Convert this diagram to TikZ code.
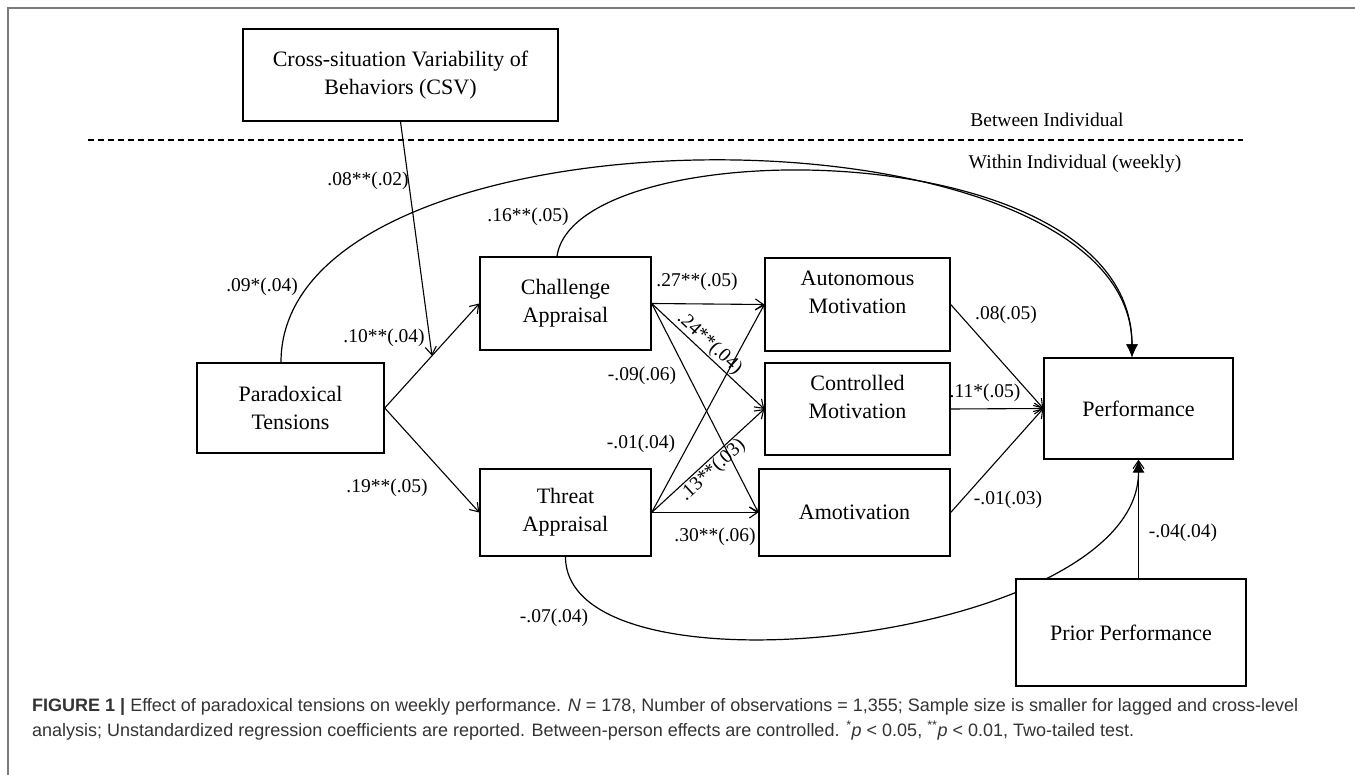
\documentclass[tikz,border=0pt]{standalone}
\usepackage{fontspec}
\setmainfont{Liberation Serif}
\newfontfamily\capfont{Liberation Sans}
\usetikzlibrary{arrows.meta, calc}
\definecolor{capgray}{HTML}{333333}
\definecolor{framegray}{HTML}{7A7A7A}
\tikzstyle{every node} = [font=\fontsize{19.5}{24}\selectfont]
\tikzstyle{var} = [draw, line width=1.4pt, fill=white, align=center, inner sep=0pt, font=\fontsize{22}{28}\selectfont]
\tikzstyle{boxtext} = [align=center, inner sep=0pt, yshift=12pt, font=\fontsize{22}{28}\selectfont]
\tikzstyle{link} = [line width=1.1pt, -{Straight Barb[length=8pt, width=11pt, line width=1.1pt]}]
\tikzstyle{curvelink} = [line width=1.2pt, -{Latex[length=13pt, width=12pt]}]
\tikzstyle{coef} = [inner sep=1pt]

\begin{document}
\begin{tikzpicture}[x=1pt, y=-1pt]
        \useasboundingbox (0,0) rectangle (1355,775);
        \draw[framegray, line width=1.5pt] (8,775) -- (8,8) -- (1355,8);

        \node[var, minimum width=315pt, minimum height=92pt] (csv) at (400.5,75) {Cross-situation Variability of\\Behaviors (CSV)};
        \node[var, minimum width=187pt, minimum height=90pt] (para) at (290.5,408) {Paradoxical\\Tensions};
        \node[var, minimum width=171pt, minimum height=93pt] (chal) at (565.5,303.5) {Challenge\\Appraisal};
        \node[var, minimum width=171pt, minimum height=87pt] (threat) at (565.5,512.5) {Threat\\Appraisal};
        \node[var, minimum width=185pt, minimum height=93pt, label={[boxtext]center:Autonomous\\Motivation}] (auto) at (857.5,304.5) {};
        \node[var, minimum width=185pt, minimum height=92pt, label={[boxtext]center:Controlled\\Motivation}] (contr) at (857.5,409) {};
        \node[var, minimum width=191pt, minimum height=87pt] (amot) at (854.5,512.5) {Amotivation};
        \node[var, minimum width=189pt, minimum height=101pt] (perf) at (1138.5,408.5) {Performance};

        \draw[line width=1.4pt, dash pattern=on 6pt off 4pt] (88,140) -- (1243,140);
        \node (between) at (1047,120) {Between Individual};
        \node (within) at (1075,164) {Within Individual (weekly)};

        \coordinate (mod) at ($(para.east)!0.5!(chal.west)$);
        \draw[link] (para.east) -- (chal.west);
        \draw[link] (para.east) -- (threat.west);
        \draw[link] (csv.south) -- (mod);
        \draw[link] (chal.east) -- (auto.west);
        \draw[link] (chal.east) -- (contr.west) node[coef, sloped, above, pos=0.45] (c24) {.24**(.04)};
        \draw[link] (chal.east) -- (amot.west);
        \draw[link] (threat.east) -- (auto.west);
        \draw[link] (threat.east) -- (contr.west) node[coef, sloped, below, pos=0.48] (c13) {.13**(.03)};
        \draw[link] (threat.east) -- (amot.west);
        \draw[link] (auto.east) -- (perf.west);
        \draw[link] (contr.east) -- (perf.west);
        \draw[link] (amot.east) -- (perf.west);

        \draw[curvelink] ([xshift=-9.5pt]para.north) .. controls +(0,-267) and +(0,-262) .. ([xshift=-6.5pt]perf.north);
        \draw[curvelink] ([xshift=-8.5pt]chal.north) .. controls +(18,-127) and +(0,-228) .. ([xshift=-6.5pt]perf.north);
        \draw[curvelink] (threat.south) .. controls +(0,149) and +(0,181) .. (perf.south);

        \node[var, minimum width=230pt, minimum height=107pt] (prior) at (1131,632.5) {Prior Performance};
        \draw[link] (prior.north -| perf.south) -- (perf.south);

        \node[coef] (c08) at (368,181) {.08**(.02)};
        \node[coef] (c10) at (384,338) {.10**(.04)};
        \node[coef] (c09) at (262,287) {.09*(.04)};
        \node[coef] (c16) at (528,217) {.16**(.05)};
        \node[coef] (c19) at (387,488) {.19**(.05)};
        \node[coef] (c27) at (697,282) {.27**(.05)};
        \node[coef] (cm09) at (642,376) {-.09(.06)};
        \node[coef] (cm01) at (641,444) {-.01(.04)};
        \node[coef] (c30) at (715,537) {.30**(.06)};
        \node[coef] (c08b) at (1006,315) {.08(.05)};
        \node[coef] (c11) at (985,393) {.11*(.05)};
        \node[coef] (cm01b) at (1008,500) {-.01(.03)};
        \node[coef] (cm04) at (1183,533) {-.04(.04)};
        \node[coef] (cm07) at (554,618) {-.07(.04)};

        \node[anchor=base west, align=left, inner sep=0pt, text=capgray, font=\capfont\fontsize{18}{25}\selectfont] (caption) at (32,736)
            {\textbf{FIGURE 1 |} Effect of paradoxical tensions on weekly performance. \textit{N} = 178, Number of observations = 1,355; Sample size is smaller for lagged and cross-level\\analysis; Unstandardized regression coefficients are reported. Between-person effects are controlled. \textsuperscript{*}\textit{p} < 0.05, \textsuperscript{**}\textit{p} < 0.01, Two-tailed test.};
\end{tikzpicture}
\end{document}
